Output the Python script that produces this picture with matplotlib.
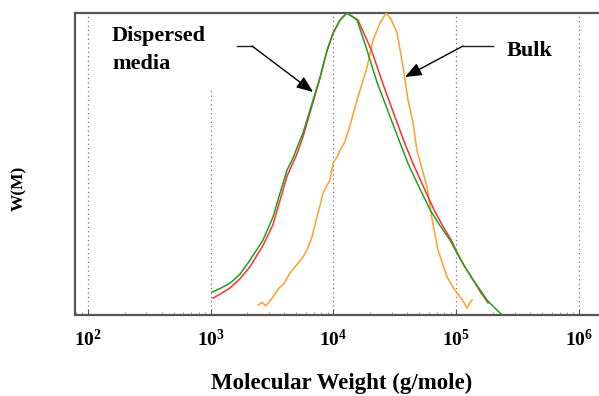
import numpy as np
import matplotlib
matplotlib.use("Agg")
import matplotlib.pyplot as plt

# ---- data (log10 of molecular weight, normalized W(M)) ----
green_logM = [3.012, 3.08, 3.16, 3.24, 3.322, 3.427, 3.509, 3.566, 3.623, 3.672, 3.70, 3.753, 3.835, 3.892, 3.949, 3.998, 4.055, 4.11,
              4.193, 4.274, 4.356, 4.44, 4.543, 4.61, 4.682, 4.788, 4.87, 4.95, 5.007, 5.07, 5.138, 5.20, 5.25, 5.31, 5.374]
green_W = [0.076, 0.088, 0.106, 0.135, 0.182, 0.248, 0.325, 0.404, 0.48, 0.52, 0.55, 0.603, 0.712, 0.788, 0.877, 0.934, 0.977, 1.0,
           0.977, 0.877, 0.77, 0.68, 0.57, 0.50, 0.437, 0.348, 0.295, 0.248, 0.205, 0.16, 0.116, 0.08, 0.05, 0.025, 0.0]

red_logM = [3.02, 3.09, 3.16, 3.24, 3.322, 3.427, 3.509, 3.566, 3.623, 3.70, 3.753, 3.835, 3.892, 3.949, 3.998, 4.055, 4.11,
            4.20, 4.31, 4.40, 4.48, 4.58, 4.65, 4.72, 4.82, 4.89, 4.96, 5.01, 5.07, 5.138, 5.20, 5.26]
red_W = [0.056, 0.072, 0.09, 0.12, 0.16, 0.23, 0.30, 0.38, 0.46, 0.53, 0.59, 0.705, 0.785, 0.875, 0.933, 0.977, 1.0,
         0.977, 0.877, 0.77, 0.68, 0.57, 0.50, 0.437, 0.348, 0.295, 0.248, 0.205, 0.16, 0.116, 0.075, 0.04]

orange_logM = [3.387, 3.42, 3.45, 3.48, 3.509, 3.56, 3.60, 3.647, 3.70, 3.753, 3.79, 3.826, 3.867, 3.89, 3.916, 3.95, 3.973, 3.998,
               4.03, 4.055, 4.09, 4.13, 4.193, 4.274, 4.323, 4.38, 4.43, 4.47, 4.519, 4.568, 4.608, 4.649, 4.68, 4.763, 4.80,
               4.852, 4.926, 4.97, 5.007, 5.05, 5.089, 5.11, 5.13]
orange_W = [0.033, 0.042, 0.030, 0.045, 0.060, 0.09, 0.105, 0.139, 0.165, 0.192, 0.22, 0.258, 0.325, 0.36, 0.404, 0.43, 0.447, 0.503,
            0.523, 0.546, 0.57, 0.62, 0.712, 0.82, 0.91, 0.967, 1.0, 0.98, 0.934, 0.821, 0.712, 0.636, 0.546, 0.424, 0.325,
            0.215, 0.126, 0.095, 0.073, 0.05, 0.023, 0.04, 0.05]

xticks = [1e2, 1e3, 1e4, 1e5, 1e6]
xtick_labels = [r"$\mathbf{10^{2}}$", r"$\mathbf{10^{3}}$", r"$\mathbf{10^{4}}$", r"$\mathbf{10^{5}}$", r"$\mathbf{10^{6}}$"]

plt.rcParams['mathtext.fontset'] = 'custom'
plt.rcParams['mathtext.rm'] = 'Liberation Serif'
plt.rcParams['mathtext.bf'] = 'Liberation Serif:bold'

fig = plt.figure(figsize=(5.99, 3.96), dpi=100)
ax = fig.add_axes([75/599, (396-315)/396, (599-75)/599, (315-13)/396])

ax.set_xscale('log')
ax.set_xlim(10**1.8966, 10**6.163)
ax.set_ylim(0, 1.0)

# gridlines
for xv in xticks:
    ymax = 1.0
    if xv == 1e3:
        ymax = (315-90)/302
    ax.axvline(xv, ymin=0, ymax=ymax, color='#777777', linestyle=(0, (1, 2.5)), linewidth=0.9, zorder=1)

ax.plot(10**np.array(orange_logM), orange_W, color='#ffa028', linewidth=1.1, zorder=3)
ax.plot(10**np.array(red_logM), red_W, color='#ff3030', linewidth=1.1, zorder=3)
ax.plot(10**np.array(green_logM), green_W, color='#22a022', linewidth=1.1, zorder=4)

for s in ['left', 'bottom', 'top']:
    ax.spines[s].set_color('#555555')
    ax.spines[s].set_linewidth(1.6)
ax.spines['right'].set_visible(False)

ax.set_yticks([])
ax.set_xticks(xticks)
ax.set_xticklabels(xtick_labels, fontsize=14)
ax.tick_params(axis='x', which='major', direction='in', length=4, color='#555555', pad=10)
ax.tick_params(axis='x', which='minor', direction='in', length=2, color='#888888')

serif = 'Liberation Serif'
fig.text(342/599, 1 - 383/396, 'Molecular Weight (g/mole)', ha='center', va='center',
         fontsize=16.5, fontweight='bold', family=serif)
fig.text(19/599, 1 - 188/396, 'W(M)', rotation=90, ha='center', va='center', fontsize=12.5, fontweight='bold', family=serif)

def px(x, y):
    # pixel -> data coords
    lx = 1.8966 + (x - 75) / 122.8
    yv = (315 - y) / 302
    return 10**lx, yv

# Dispersed media annotation
fig.text(112/599, 1 - 36/396, 'Dispersed', ha='left', va='center', fontsize=16, fontweight='bold', family=serif)
fig.text(112/599, 1 - 64/396, 'media', ha='left', va='center', fontsize=16, fontweight='bold', family=serif)
ax.plot(*zip(px(237, 46), px(252, 46)), color='#222222', linewidth=1.0, clip_on=False)
ax.annotate('', xy=px(313, 92), xytext=px(252, 46),
            arrowprops=dict(arrowstyle='-|>,head_length=1.0,head_width=0.4', color='black', lw=1.0, shrinkA=0, shrinkB=0))

# Bulk annotation
fig.text(507/599, 1 - 51/396, 'Bulk', ha='left', va='center', fontsize=16, fontweight='bold', family=serif)
ax.plot(*zip(px(493, 46), px(463, 46)), color='#222222', linewidth=1.0, clip_on=False)
ax.annotate('', xy=px(405, 77), xytext=px(463, 46),
            arrowprops=dict(arrowstyle='-|>,head_length=1.0,head_width=0.4', color='black', lw=1.0, shrinkA=0, shrinkB=0))

fig.savefig('out.png', dpi=100)
